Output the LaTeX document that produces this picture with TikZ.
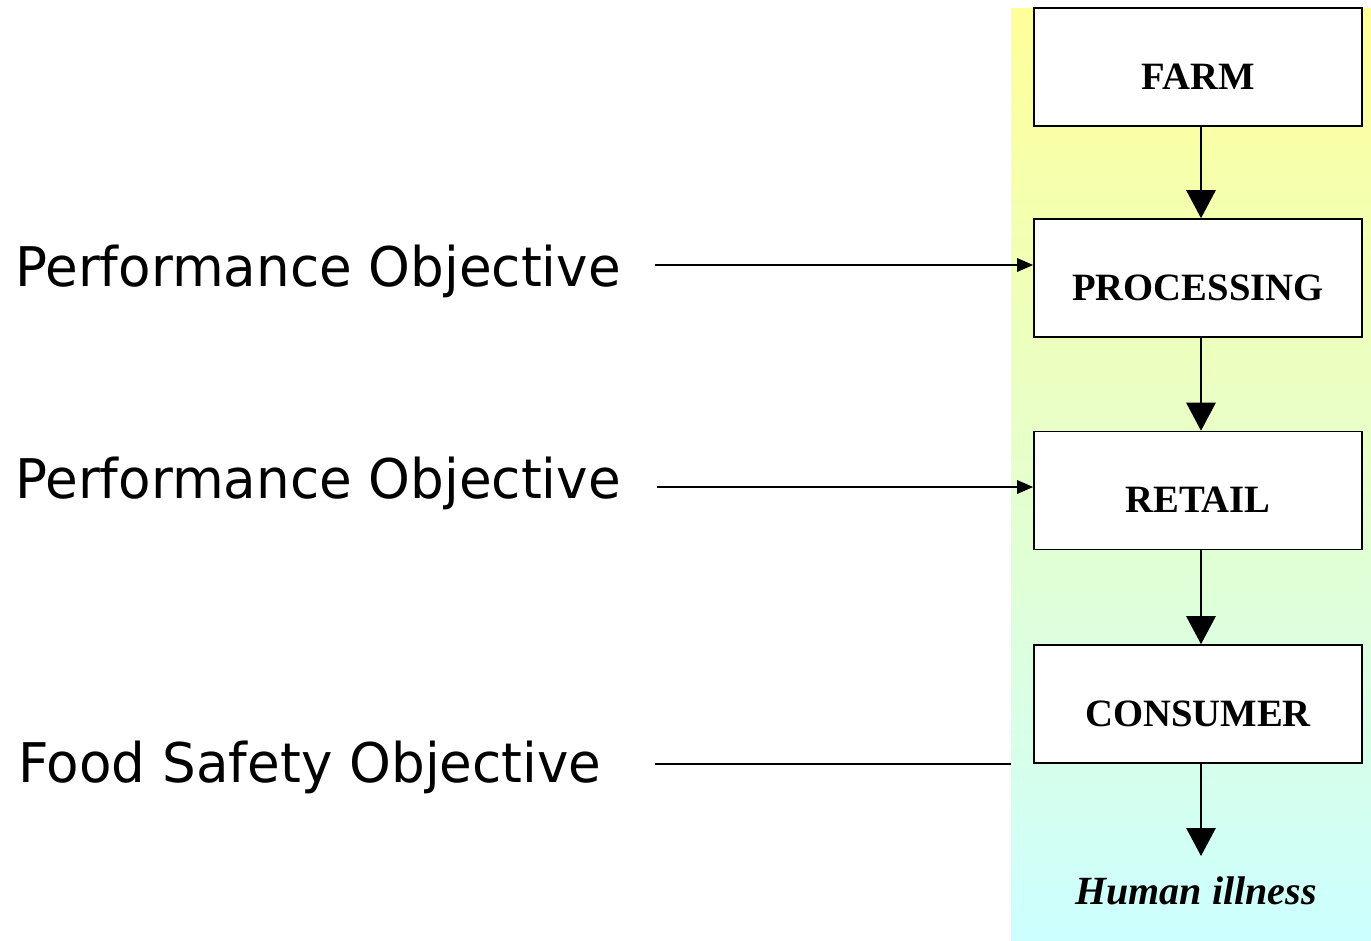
\documentclass[tikz,border=0pt]{standalone}
\usepackage{fontspec}
\setmainfont{Liberation Serif}
\newfontfamily\verd{DejaVu Sans}
\usetikzlibrary{arrows.meta}
\definecolor{topyel}{RGB}{255,255,153}
\definecolor{botcyan}{RGB}{204,255,255}
\newcommand{\lowtxt}[1]{\raisebox{-16.5pt}[0pt][0pt]{#1}}
\newcommand{\narrow}[1]{\scalebox{0.972}[1]{#1}}
\tikzset{
  stage/.style={draw=black, line width=1.2pt, fill=white, minimum width=246pt, minimum height=88.5pt, inner sep=0pt, font=\fontsize{29}{29}\selectfont\bfseries},
  bigarrow/.style={line width=1.3pt, -{Triangle[length=21pt,width=22pt]}},
  smallarrow/.style={line width=1.5pt, -{Triangle[length=12pt,width=10pt]}},
  plain/.style={line width=1.5pt},
  objtext/.style={font=\verd\fontsize{41}{41}\selectfont, inner sep=0pt, anchor=west}
}
\begin{document}
\begin{tikzpicture}[x=0.75pt,y=-0.75pt]
\useasboundingbox (0,0) rectangle (1371,940);
\shade[top color=topyel, bottom color=botcyan] (1011,8) rectangle (1371,940);
\node[stage] (farm) at (1198,67) {\lowtxt{FARM}};
\node[stage] (proc) at (1198,278) {\lowtxt{PROCESSING}};
\node[stage] (retail) at (1198,490.5) {\lowtxt{RETAIL}};
\node[stage] (cons) at (1198,704) {\lowtxt{CONSUMER}};
\node[font=\fontsize{30}{30}\selectfont\bfseries\itshape, inner sep=0pt] (ill) at (1196,891) {Human illness};
\coordinate (illtop) at (1201,856);
\draw[bigarrow] (farm.south -| 1201,0) -- (proc.north -| 1201,0);
\draw[bigarrow] (proc.south -| 1201,0) -- (retail.north -| 1201,0);
\draw[bigarrow] (retail.south -| 1201,0) -- (cons.north -| 1201,0);
\draw[bigarrow] (cons.south -| 1201,0) -- (illtop);
\node[objtext] (po1) at (15,271) {\narrow{Performance Objective}};
\node[objtext] (po2) at (15,483) {\narrow{Performance Objective}};
\node[objtext] (fso) at (18,767) {\narrow{Food Safety Objective}};
\coordinate (po1s) at (655,265);
\coordinate (po2s) at (657,487);
\coordinate (fsos) at (655,764);
\coordinate (fsoe) at (1011,764);
\draw[smallarrow] (po1s) -- (po1s -| proc.west);
\draw[smallarrow] (po2s) -- (po2s -| retail.west);
\draw[plain] (fsos) -- (fsoe);
\end{tikzpicture}
\end{document}
